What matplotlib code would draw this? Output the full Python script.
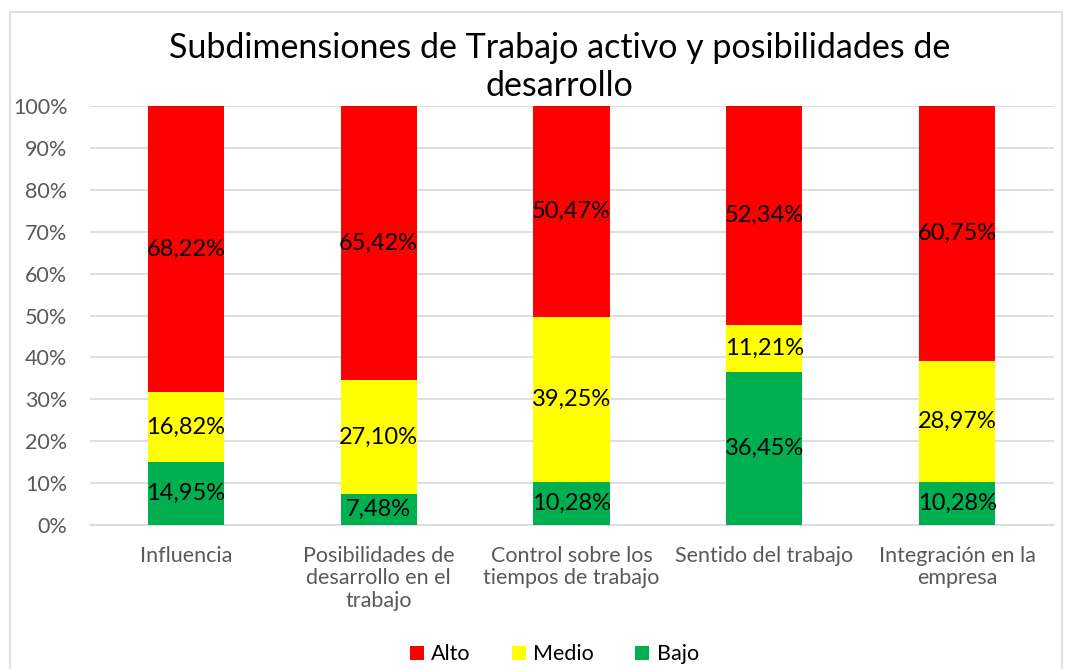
import matplotlib
matplotlib.use("Agg")
import matplotlib.pyplot as plt
from matplotlib.patches import Rectangle
import numpy as np

plt.rcParams['font.family'] = ['Lato', 'DejaVu Sans']

categories = ["Influencia", "Posibilidades de\ndesarrollo en el\ntrabajo",
              "Control sobre los\ntiempos de trabajo", "Sentido del trabajo",
              "Integración en la\nempresa"]
bajo = [14.95, 7.48, 10.28, 36.45, 10.28]
medio = [16.82, 27.10, 39.25, 11.21, 28.97]
alto = [68.22, 65.42, 50.47, 52.34, 60.75]
series = [("Bajo", bajo, "#00B050"), ("Medio", medio, "#FFFF00"), ("Alto", alto, "#FF0000")]

fig = plt.figure(figsize=(10.7, 6.69), dpi=100)
ax = fig.add_axes([0.0837, 0.2152, 0.9009, 0.6264])

x = np.arange(len(categories))
bottom = np.zeros(len(categories))
handles = {}
for name, vals, col in series:
    v = np.array(vals)
    bars = ax.bar(x, v, 0.395, bottom=bottom, color=col, zorder=3)
    handles[name] = bars
    for xi, b, h in zip(x, bottom, v):
        ax.text(xi, b + h / 2, f"{h:.2f}%".replace(".", ","), ha="center", va="center",
                fontsize=17, color="black", zorder=4)
    bottom += v

ax.set_xlim(-0.5, len(categories) - 0.5)
ax.set_ylim(0, 100)
ax.set_yticks(np.arange(0, 101, 10))
ax.set_yticklabels([f"{t}%" for t in range(0, 101, 10)])
ax.set_xticks(x)
ax.set_xticklabels(categories, linespacing=1.15)
ax.tick_params(axis="both", length=0, labelsize=15.5, colors="#595959")
ax.tick_params(axis="y", pad=16)
ax.tick_params(axis="x", pad=15)
ax.grid(axis="y", color="#D9D9D9", linewidth=1.2, zorder=0)
for s in ["top", "right", "left"]:
    ax.spines[s].set_visible(False)
ax.spines["bottom"].set_color("#D9D9D9")
ax.spines["bottom"].set_linewidth(1.2)

fig.text(0.523, 0.9, "Subdimensiones de Trabajo activo y posibilidades de\ndesarrollo",
         ha="center", va="center", fontsize=24.5, color="#000000", linespacing=1.25)

leg = fig.legend([handles["Alto"], handles["Medio"], handles["Bajo"]], ["Alto", "Medio", "Bajo"],
                 loc="center", bbox_to_anchor=(0.518, 0.022), ncol=3, frameon=False,
                 fontsize=15.5, handlelength=0.65, handleheight=0.65, columnspacing=1.9,
                 handletextpad=0.35)

fig.patches.append(Rectangle((0.0095, -0.01), 0.983, 0.992, transform=fig.transFigure,
                             fill=False, edgecolor="#D9D9D9", linewidth=1.2))

fig.savefig("out.png", dpi=100, facecolor="white")
